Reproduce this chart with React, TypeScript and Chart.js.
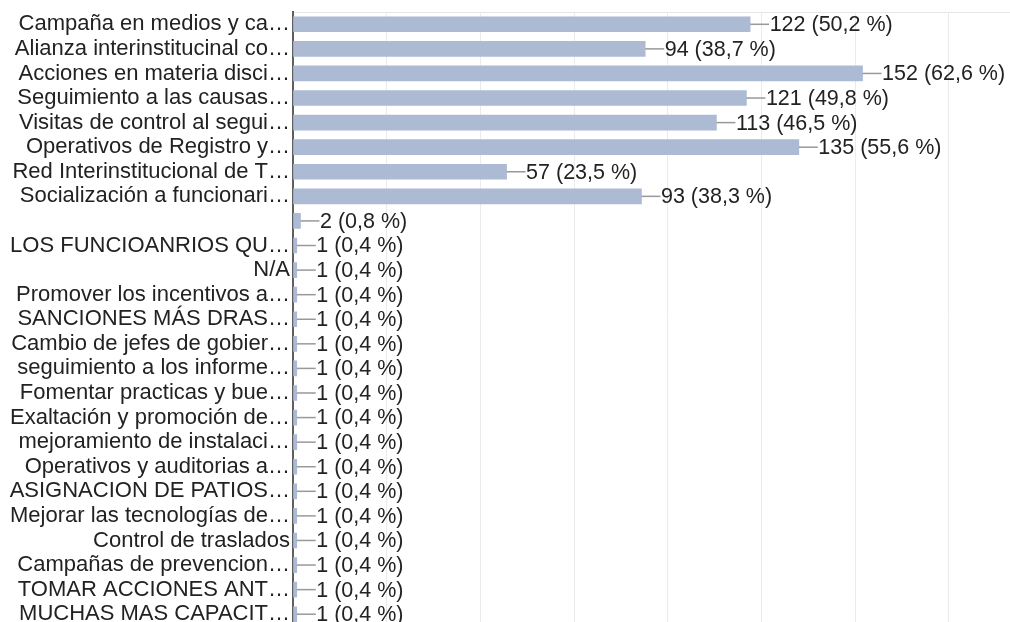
import { useEffect, useRef } from "react";
import { Chart, registerables } from "chart.js";

Chart.register(...registerables);

const FONT = '"Liberation Sans", Arial, Helvetica, sans-serif';

const categories = [
  "Campaña en medios y ca…",
  "Alianza interinstitucinal co…",
  "Acciones en materia disci…",
  "Seguimiento a las causas…",
  "Visitas de control al segui…",
  "Operativos de Registro y…",
  "Red Interinstitucional de T…",
  "Socialización a funcionari…",
  "",
  "LOS FUNCIOANRIOS QU…",
  "N/A",
  "Promover los incentivos a…",
  "SANCIONES MÁS DRAS…",
  "Cambio de jefes de gobier…",
  "seguimiento a los informe…",
  "Fomentar practicas y bue…",
  "Exaltación y promoción de…",
  "mejoramiento de instalaci…",
  "Operativos y auditorias a…",
  "ASIGNACION DE PATIOS…",
  "Mejorar las tecnologías de…",
  "Control de traslados",
  "Campañas de prevencion…",
  "TOMAR ACCIONES ANT…",
  "MUCHAS MAS CAPACIT…",
];

const counts = [122, 94, 152, 121, 113, 135, 57, 93, 2, 1, 1, 1, 1, 1, 1, 1, 1, 1, 1, 1, 1, 1, 1, 1, 1];

const percents = [
  "50,2", "38,7", "62,6", "49,8", "46,5", "55,6", "23,5", "38,3", "0,8",
  "0,4", "0,4", "0,4", "0,4", "0,4", "0,4", "0,4", "0,4", "0,4", "0,4",
  "0,4", "0,4", "0,4", "0,4", "0,4", "0,4",
];

const xMin = 0;
const xMax = 200;
const xStep = 25;

const valueLabels = {
  id: "valueLabels",
  afterDatasetsDraw(chart: any) {
    const ctx = chart.ctx as CanvasRenderingContext2D;
    const meta = chart.getDatasetMeta(0);
    ctx.save();
    ctx.font = `21.5px ${FONT}`;
    ctx.textBaseline = "middle";
    ctx.textAlign = "left";
    meta.data.forEach((el: any, i: number) => {
      const x = el.x;
      const y = el.y;
      ctx.strokeStyle = "#999999";
      ctx.lineWidth = 1.5;
      ctx.beginPath();
      ctx.moveTo(x, y);
      ctx.lineTo(x + 19, y);
      ctx.stroke();
      ctx.fillStyle = "#222222";
      ctx.fillText(`${counts[i]} (${percents[i]} %)`, x + 19.5, y + 1);
    });
    ctx.restore();
  },
};

export default function App() {
  const ref = useRef<HTMLCanvasElement>(null);

  useEffect(() => {
    const chart = new Chart(ref.current as HTMLCanvasElement, {
      type: "bar",
      data: {
        labels: categories,
        datasets: [
          {
            data: counts,
            backgroundColor: "#adbad4",
            borderWidth: 0,
            barThickness: 15,
          },
        ],
      },
      options: {
        indexAxis: "y",
        responsive: false,
        animation: false,
        layout: { padding: { top: 12, right: 7.6, bottom: 13.5, left: 0 } },
        plugins: {
          legend: { display: false },
          tooltip: { enabled: false },
        },
        scales: {
          x: {
            type: "linear",
            min: xMin,
            max: xMax,
            ticks: { display: false, stepSize: xStep },
            grid: { color: "#ebebeb", drawTicks: false, lineWidth: 1 },
            border: { display: false },
          },
          y: {
            type: "category",
            afterFit(scale: any) {
              scale.width = 293;
            },
            ticks: {
              autoSkip: false,
              padding: 3,
              color: "#222222",
              font: { family: FONT, size: 22, lineHeight: 0.5 },
            },
            grid: {
              drawTicks: false,
              color: (c: any) => (c.index === 0 ? "#e6e6e6" : "rgba(0,0,0,0)"),
            },
            border: { display: true, color: "#5f5f5f", width: 2 },
          },
        },
      },
      plugins: [valueLabels],
    } as any);
    return () => chart.destroy();
  }, []);

  return (
    <div
      style={{
        position: "fixed",
        left: 0,
        top: 0,
        width: 1010,
        height: 622,
        overflow: "hidden",
        background: "#ffffff",
      }}
    >
      <canvas ref={ref} width={1050} height={640} style={{ width: 1050, height: 640 }} />
    </div>
  );
}
